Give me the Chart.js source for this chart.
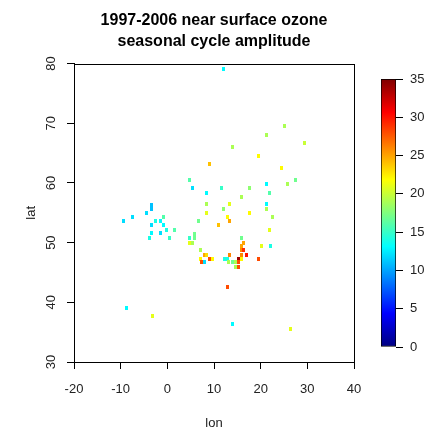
<!DOCTYPE html>
<html lang="en">
<head>
<meta charset="UTF-8">
<title>ozone seasonal cycle amplitude</title>
<script src="https://cdn.jsdelivr.net/npm/chart.js"></script>
<style>
  body { margin: 0; background: #fff; }
  #wrap { position: relative; width: 433px; height: 428px; }
  #main { position: absolute; left: 0; top: 0; }
  #bar { position: absolute; left: 370px; top: 0; }
</style>
</head>
<body>
<div id="wrap">
  <canvas id="main" width="433" height="428"></canvas>
  <canvas id="bar" width="63" height="428"></canvas>
</div>
<script>
// station positions and amplitude
const lon = [12.1, 25.1, 21.3, 29.3, 13.9, 19.5, 9.0, 24.5, 4.8, 27.5,
             5.4, 25.7, 21.3, 8.4, 11.5, 17.7, 21.9, 15.8, 8.4, 13.4,
             21.3, 12.1, 21.3, 8.4, 17.7, 12.8, 13.4, 22.6, 6.6, 10.9,
             21.9, 5.9, 5.9, 4.8, 4.8, 5.4, 15.8, 16.4, 15.9, 20.2,
             22.0, 7.2, 15.8, 16.3, 7.9, 8.4, 13.4, 15.9, 17.0, 7.2,
             9.0, 9.7, 12.2, 12.8, 15.3, 15.9, 19.5, 7.3, 7.9, 13.1,
             14.0, 14.7, 14.7, 15.3, 15.3, 12.9, -8.7, -3.2, 13.9, 26.3,
             -3.3, -3.3, -4.4, -7.4, -9.4, -2.6, -1.4, -0.9, -3.3, -0.9,
             -0.1, 1.6, -3.3, -1.4, -3.9, 0.4];
const lat = [79.1, 69.5, 68.1, 66.7, 66.0, 64.5, 63.2, 62.5, 60.5, 60.5,
             59.1, 59.8, 59.8, 58.4, 59.1, 59.1, 58.4, 57.7, 56.4, 56.4,
             56.4, 55.7, 55.7, 55.0, 55.0, 54.3, 53.6, 54.3, 53.6, 52.9,
             52.2, 51.4, 50.7, 50.7, 50.0, 50.0, 50.7, 50.0, 49.4, 49.4,
             49.4, 48.7, 48.7, 48.7, 48.0, 48.0, 48.0, 48.0, 48.0, 47.3,
             47.3, 47.3, 47.3, 47.3, 47.3, 47.3, 47.3, 46.7, 46.7, 46.7,
             46.7, 46.7, 46.0, 46.7, 46.0, 42.5, 39.1, 37.7, 36.4, 35.6,
             56.3, 55.6, 54.9, 54.3, 53.6, 53.6, 53.6, 54.3, 52.9, 52.9,
             52.2, 52.2, 51.6, 51.6, 50.8, 50.8];
const amp = [13, 19, 19, 20, 19, 22, 24, 22, 16, 17,
             12, 19, 13, 13, 15, 18, 16, 19, 19, 21,
             13, 18, 19, 21, 22, 22, 25, 19, 17, 24,
             21, 17, 17, 15, 21, 19, 17, 25, 25, 21,
             14, 19, 26, 29, 25, 23, 26, 26, 30, 22,
             28, 22, 14, 14, 34, 22, 28, 28, 12, 19,
             17, 19, 19, 28, 28, 28, 13, 21, 13, 21,
             11, 11, 12, 12, 12, 14, 13, 16, 12, 13,
             14, 16, 13, 12, 14, 15];

const xTicks = [-20, -10, 0, 10, 20, 30, 40];
const yTicks = [30, 40, 50, 60, 70, 80];
const barTicks = [0, 5, 10, 15, 20, 25, 30, 35];
const ampMax = 35;
const jet = ['#00007F', '#0000FF', '#007FFF', '#00FFFF', '#7FFF7F', '#FFFF00', '#FF7F00', '#FF0000', '#7F0000'];

Chart.defaults.font.family = "'Liberation Sans', Arial, sans-serif";
Chart.defaults.font.size = 13;

function hexRgb(h) {
  return [parseInt(h.slice(1, 3), 16), parseInt(h.slice(3, 5), 16), parseInt(h.slice(5, 7), 16)];
}
function jetColor(v) {
  let t = Math.max(0, Math.min(1, v / ampMax)) * (jet.length - 1);
  let i = Math.min(Math.floor(t), jet.length - 2);
  let f = t - i;
  let a = hexRgb(jet[i]), b = hexRgb(jet[i + 1]);
  let c = a.map((x, k) => Math.round(x + (b[k] - x) * f));
  return 'rgb(' + c.join(',') + ')';
}

// little 3x4 cell used as point style
const cells = {};
function cell(color) {
  if (!cells[color]) {
    const c = document.createElement('canvas');
    c.width = 3; c.height = 4;
    const g = c.getContext('2d');
    g.fillStyle = color;
    g.fillRect(0, 0, 3, 4);
    cells[color] = c;
  }
  return cells[color];
}

const boxPlugin = {
  id: 'box',
  afterDraw(chart) {
    const { ctx, chartArea: a } = chart;
    ctx.save();
    ctx.strokeStyle = '#000';
    ctx.lineWidth = 1;
    ctx.strokeRect(Math.round(a.left) + 0.5, Math.round(a.top) + 0.5,
      Math.round(a.right - a.left), Math.round(a.bottom - a.top));
    ctx.restore();
  }
};

new Chart(document.getElementById('main'), {
  type: 'scatter',
  data: {
    datasets: [{
      data: lon.map((x, i) => ({ x: x, y: lat[i] })),
      pointStyle: ctx => cell(jetColor(amp[ctx.dataIndex])),
      pointRadius: 2
    }]
  },
  options: {
    responsive: false,
    animation: false,
    layout: { padding: { left: 0, right: 79, top: 0, bottom: 0 } },
    plugins: {
      legend: { display: false },
      tooltip: { enabled: false },
      title: {
        display: true,
        fullSize: false,
        text: ['1997-2006 near surface ozone', 'seasonal cycle amplitude'],
        color: '#000',
        font: { size: 16, weight: 'bold', lineHeight: 1.3 },
        padding: { top: 10, bottom: 12 }
      }
    },
    scales: {
      x: {
        type: 'linear', min: -20, max: 40,
        afterBuildTicks: s => { s.ticks = xTicks.map(v => ({ value: v })); },
        afterFit: s => { s.height = 66; },
        grid: { drawOnChartArea: false, tickLength: 7, color: '#000' },
        border: { display: true, color: '#000' },
        ticks: { color: '#222', padding: 13, maxRotation: 0 },
        title: { display: true, text: 'lon', color: '#222', font: { size: 13, lineHeight: 1 }, padding: { top: 0, bottom: -2 } }
      },
      y: {
        type: 'linear', min: 30, max: 80,
        afterBuildTicks: s => { s.ticks = yTicks.map(v => ({ value: v })); },
        afterFit: s => { s.width = 74; },
        grid: { drawOnChartArea: false, tickLength: 7, color: '#000' },
        border: { display: true, color: '#000' },
        ticks: { color: '#222', padding: 8, minRotation: 90, maxRotation: 90, crossAlign: 'center' },
        title: { display: true, text: 'lat', color: '#222', font: { size: 13, lineHeight: 1 }, padding: { top: 25, bottom: 0 } }
      }
    }
  },
  plugins: [boxPlugin]
});

// colour bar
new Chart(document.getElementById('bar'), {
  type: 'bar',
  data: {
    labels: [''],
    datasets: [{
      data: [[0, ampMax]],
      backgroundColor: c => {
        const ch = c.chart;
        if (!ch.chartArea) return jet[0];
        const y = ch.scales.y;
        const g = ch.ctx.createLinearGradient(0, y.getPixelForValue(0), 0, y.getPixelForValue(ampMax));
        jet.forEach((col, i) => g.addColorStop(i / (jet.length - 1), col));
        return g;
      },
      borderColor: '#000',
      borderWidth: 1,
      borderSkipped: false,
      barPercentage: 1,
      categoryPercentage: 1
    }]
  },
  options: {
    responsive: false,
    animation: false,
    layout: { padding: { left: 11, right: 0, top: 79, bottom: 81 } },
    plugins: { legend: { display: false }, tooltip: { enabled: false } },
    scales: {
      x: { display: false },
      y: {
        position: 'right', min: 0, max: ampMax,
        afterBuildTicks: s => { s.ticks = barTicks.map(v => ({ value: v })); },
        afterFit: s => { s.width = 37; },
        grid: { drawOnChartArea: false, tickLength: 7, color: '#000' },
        border: { display: false },
        ticks: { color: '#222', padding: 7 }
      }
    }
  }
});
</script>
</body>
</html>
